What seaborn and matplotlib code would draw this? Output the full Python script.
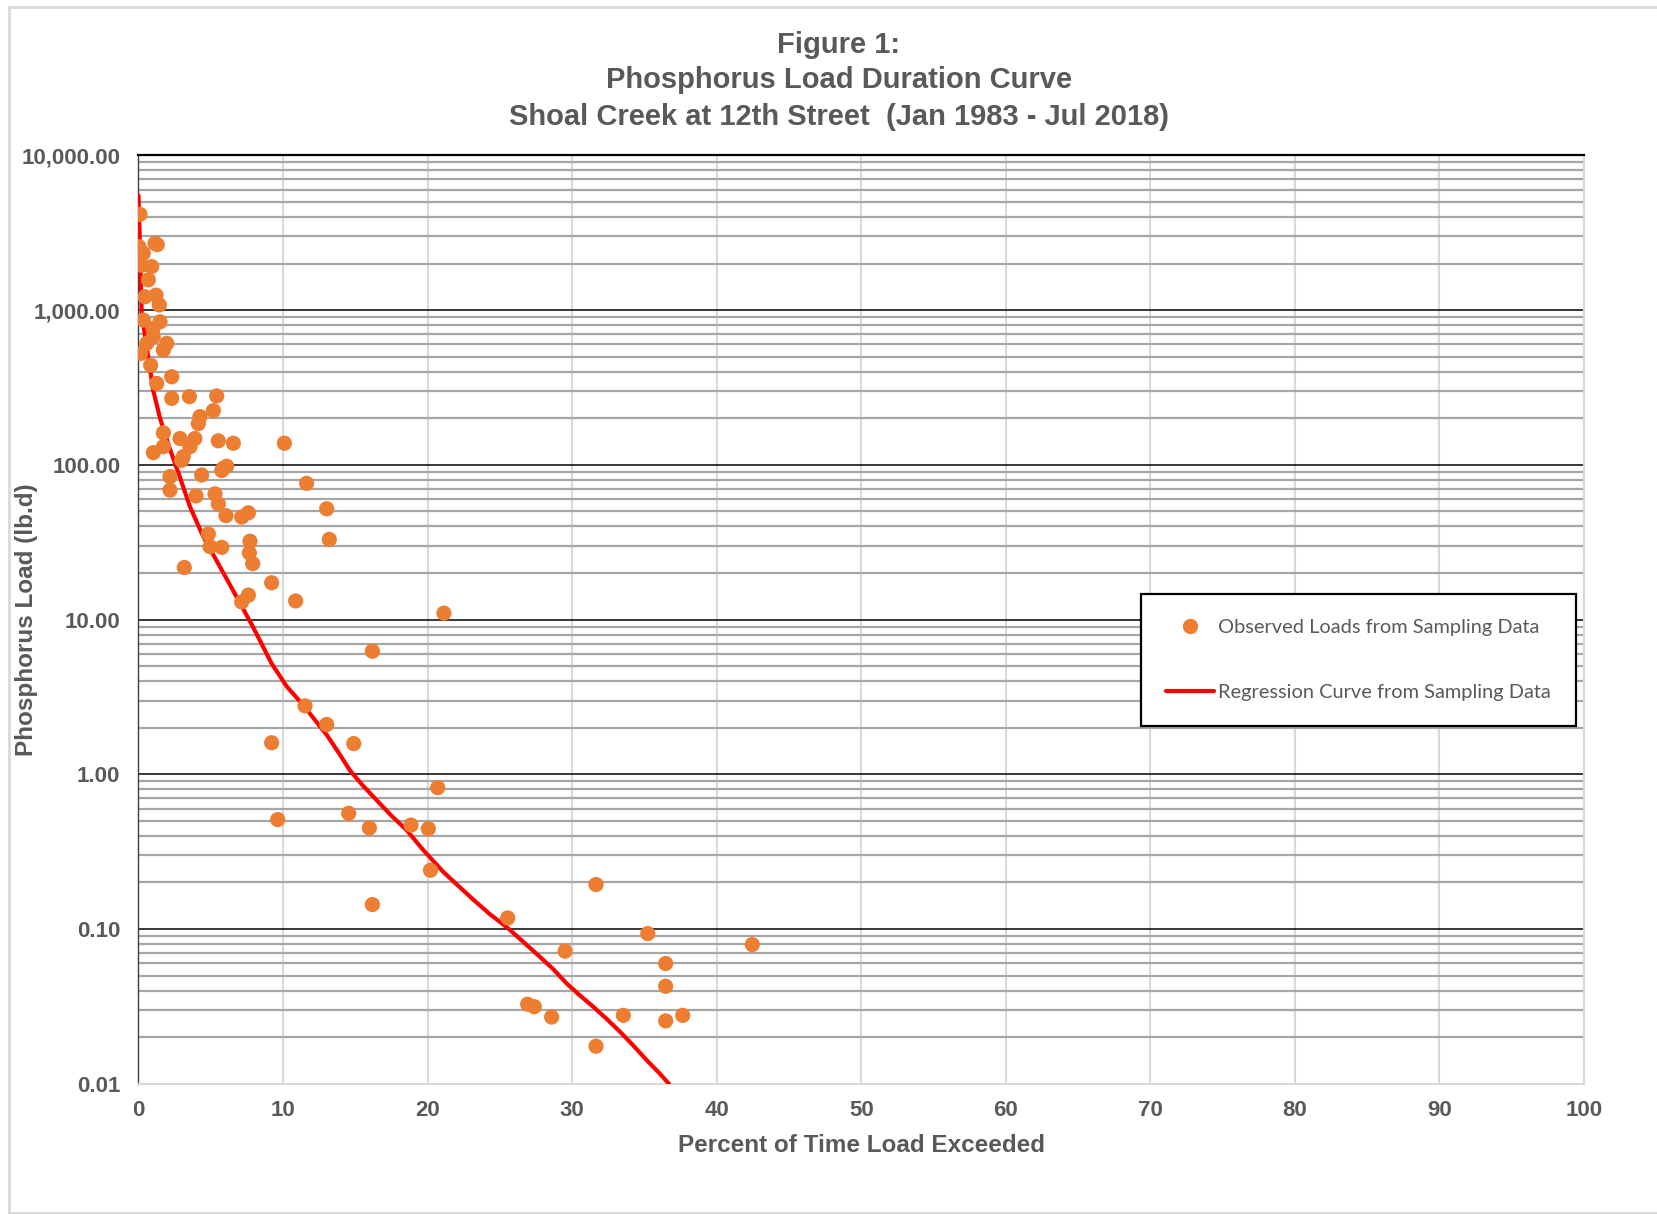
import matplotlib
matplotlib.use("Agg")
import matplotlib.pyplot as plt
import matplotlib.ticker as mticker
from matplotlib.lines import Line2D
import seaborn as sns
import pandas as pd

# ---------------- data ----------------
obs_pct = [0.1, 0.03, 1.14, 1.3, 0.33, 0.22, 0.91, 0.68, 0.45, 1.21, 1.44, 0.33, 1.49, 1.0,
           1.02, 1.95, 0.57, 1.72, 0.15, 0.84, 2.3, 1.26, 2.3, 3.52, 5.41, 5.18, 4.25, 4.14,
           1.72, 2.87, 3.9, 5.52, 6.56, 10.09, 1.72, 1.03, 3.56, 3.1, 2.98, 6.1, 5.76, 5.87,
           2.18, 4.37, 2.18, 3.98, 5.29, 5.52, 6.05, 7.14, 7.6, 13.02, 11.63, 4.83, 4.95, 5.76,
           7.71, 7.67, 7.9, 13.2, 3.17, 9.21, 7.6, 7.14, 10.87,
           21.13, 16.18, 11.52, 13.02, 9.21, 14.89, 20.7, 9.63, 14.54, 15.97, 18.85, 20.05, 20.2,
           16.18, 25.54, 31.65, 35.23, 42.46, 29.51, 36.47, 36.47, 26.92, 27.38, 28.58, 33.54,
           36.47, 37.65, 31.65]
obs_load = [4160, 2570, 2700, 2650, 2330, 1950, 1910, 1570, 1220, 1250, 1080, 863, 841, 760,
            673, 610, 610, 552, 525, 441, 371, 336, 269, 276, 279, 224, 205, 185,
            161, 148, 148, 143, 138, 138, 131, 120, 131, 113, 107, 98, 92, 95,
            84, 86, 68.7, 63, 65, 56, 47, 46, 49, 52, 76, 35.7, 29.6, 29.3,
            32.1, 27.0, 23.0, 33.0, 21.7, 17.3, 14.4, 13.0, 13.2,
            11.0, 6.25, 2.77, 2.1, 1.6, 1.58, 0.82, 0.51, 0.56, 0.45, 0.47, 0.445, 0.24,
            0.144, 0.118, 0.194, 0.0935, 0.0794, 0.072, 0.0599, 0.0427, 0.0327, 0.0315, 0.027, 0.0277,
            0.0255, 0.0277, 0.0175]

reg_pct = [0.0, 0.1, 0.22, 0.57, 1.02, 1.49, 2.18, 2.87, 3.56, 4.48, 5.64, 6.79, 7.94, 9.21,
           10.25, 11.4, 12.2, 13.02, 13.8, 14.63, 15.5, 16.48, 17.5, 18.55, 19.7, 21.09, 22.0,
           23.16, 24.3, 25.47, 26.6, 27.78, 28.7, 29.62, 30.5, 31.47, 32.4, 33.31, 34.2, 35.16,
           36.0, 36.7]
reg_load = [5500, 2570, 955, 575, 302, 200, 126, 83, 53.7, 34.3, 21.9, 14.0, 8.9, 5.2,
            3.7, 2.8, 2.25, 1.8, 1.4, 1.06, 0.85, 0.68, 0.54, 0.436, 0.324, 0.234, 0.195,
            0.155, 0.125, 0.103, 0.083, 0.066, 0.055, 0.0445, 0.0375, 0.0314, 0.0262, 0.0217,
            0.0178, 0.0142, 0.0118, 0.0100]

y_ticks = [0.01, 0.1, 1, 10, 100, 1000, 10000]
x_ticks = [0, 10, 20, 30, 40, 50, 60, 70, 80, 90, 100]

title_lines = ["Figure 1:", "Phosphorus Load Duration Curve",
               "Shoal Creek at 12th Street  (Jan 1983 - Jul 2018)"]
x_label = "Percent of Time Load Exceeded"
y_label = "Phosphorus Load (lb.d)"
obs_name = "Observed Loads from Sampling Data"
reg_name = "Regression Curve from Sampling Data"

# ---------------- style ----------------
sns.set_theme(style="white")
plt.rcParams['font.family'] = ['Liberation Sans', 'DejaVu Sans']

TXT = "#595959"
ORANGE = "#ED7D31"

fig = plt.figure(figsize=(16.58, 12.14), dpi=100)
ax = fig.add_axes([138.5 / 1658, 1 - 1083.8 / 1214, (1584 - 138.5) / 1658, (1083.8 - 155.4) / 1214])

obs_df = pd.DataFrame({"pct": obs_pct, "load": obs_load})
reg_df = pd.DataFrame({"pct": reg_pct, "load": reg_load})

sns.lineplot(data=reg_df, x="pct", y="load", ax=ax, color="#FF0000", lw=3.0,
             sort=False, estimator=None, zorder=3)
sns.scatterplot(data=obs_df, x="pct", y="load", ax=ax, color=ORANGE, s=120,
                edgecolor="none", linewidth=0, zorder=4)

ax.set_yscale("log")
ax.set_ylim(0.01, 10000)
ax.set_xlim(0, 100)

ax.yaxis.set_major_locator(mticker.FixedLocator(y_ticks))
ax.yaxis.set_major_formatter(mticker.FuncFormatter(lambda v, p: f"{v:,.2f}"))
ax.yaxis.set_minor_locator(mticker.LogLocator(base=10, subs=[2, 3, 4, 5, 6, 7, 8, 9], numticks=20))
ax.yaxis.set_minor_formatter(mticker.NullFormatter())
ax.xaxis.set_major_locator(mticker.FixedLocator(x_ticks))

ax.set_axisbelow(True)
ax.grid(which="major", axis="y", color="black", lw=1.1)
ax.grid(which="minor", axis="y", color="#A6A6A6", lw=1.6)
ax.grid(which="major", axis="x", color="#D9D9D9", lw=1.5)

ax.tick_params(axis="both", which="both", length=0)
ax.tick_params(axis="y", pad=13, labelsize=16, labelcolor=TXT)
ax.tick_params(axis="x", pad=12, labelsize=16, labelcolor=TXT)
for lab in ax.get_xticklabels() + ax.get_yticklabels():
    lab.set_fontweight("bold")

ax.spines["left"].set_color("#404040")
ax.spines["left"].set_linewidth(1.0)
ax.spines["top"].set_color("black")
ax.spines["top"].set_linewidth(1.6)
ax.spines["bottom"].set_color("#D9D9D9")
ax.spines["bottom"].set_linewidth(1.5)
ax.spines["right"].set_color("#D9D9D9")
ax.spines["right"].set_linewidth(1.5)

ax.set_xlabel(x_label, fontsize=17.5, fontweight="bold", color=TXT)
ax.set_ylabel(y_label, fontsize=17.5, fontweight="bold", color=TXT)
ax.yaxis.set_label_coords(-(138.5 - 27) / 1445.5, 0.5)
ax.xaxis.set_label_coords(0.5, -(1145 - 1083.8) / 928.4)
ax.xaxis.label.set_verticalalignment("center")
ax.yaxis.label.set_verticalalignment("center")

# title
for txt, yp in zip(title_lines, [45, 80, 117]):
    fig.text(839 / 1658, 1 - yp / 1214, txt, ha="center", va="center",
             fontsize=21, fontweight="bold", color=TXT)

# legend
handles = [Line2D([], [], marker="o", ls="none", color=ORANGE, markersize=11, markeredgewidth=0),
           Line2D([], [], color="#FF0000", lw=3)]
leg = ax.legend(handles, [obs_name, reg_name], loc="upper left",
                bbox_to_anchor=(0.6935, 0.5276), borderaxespad=0, frameon=True,
                fancybox=False, edgecolor="black", framealpha=1, borderpad=1.25,
                labelspacing=2.4, handlelength=2.4, handletextpad=0.2,
                prop={"family": ["Lato", "DejaVu Sans"], "size": 14.4})
leg.get_frame().set_linewidth(1.6)
for t in leg.get_texts():
    t.set_color(TXT)

# chart area border (left, top, bottom)
border_c = "#D9D9D9"
fig.add_artist(Line2D([9 / 1658, 9 / 1658], [0.5 / 1214, 1 - 7 / 1214], color=border_c, lw=2,
                      transform=fig.transFigure))
fig.add_artist(Line2D([9 / 1658, 1], [1 - 7 / 1214, 1 - 7 / 1214], color=border_c, lw=2,
                      transform=fig.transFigure))
fig.add_artist(Line2D([9 / 1658, 1], [0.7 / 1214, 0.7 / 1214], color=border_c, lw=2,
                      transform=fig.transFigure))

fig.savefig("out.png", dpi=100)
